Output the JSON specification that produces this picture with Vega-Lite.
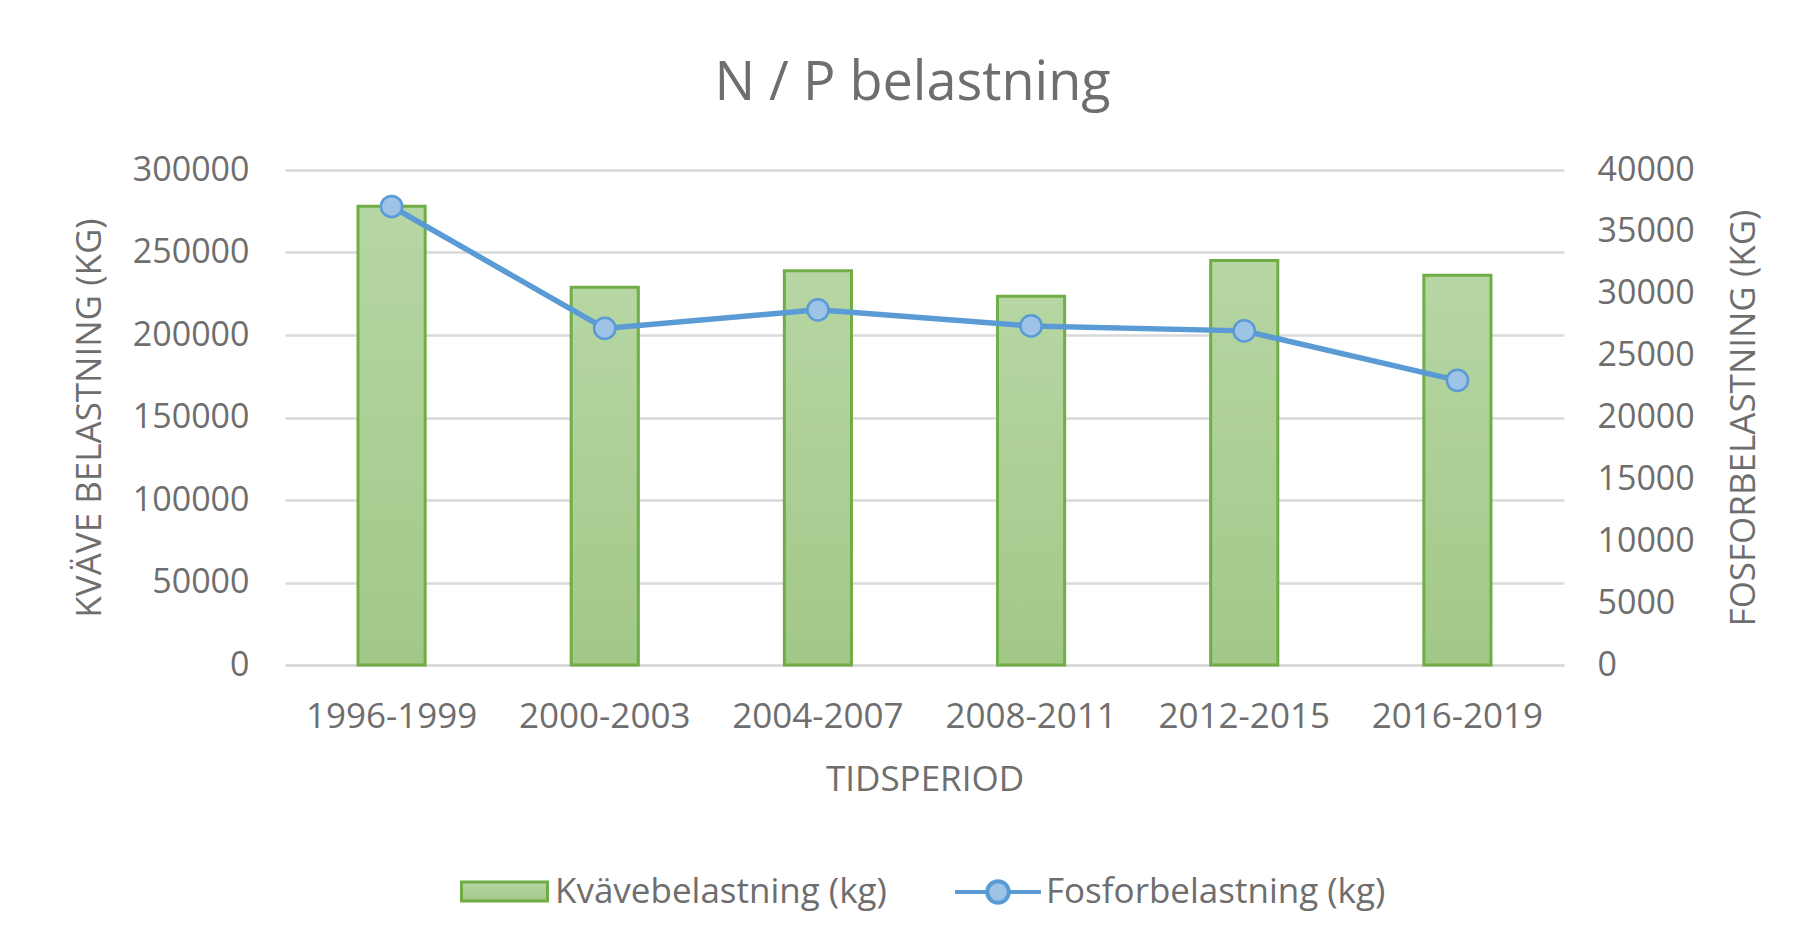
{
  "$schema": "https://vega.github.io/schema/vega-lite/v6.json",
  "width": 1279,
  "height": 495,
  "autosize": {"type": "none"},
  "padding": {"left": 285, "top": 170, "right": 237, "bottom": 287},
  "background": "white",
  "title": {"text": "N / P belastning", "font": "Open Sans", "fontSize": 54, "fontWeight": "normal", "color": "#6e6e6e", "anchor": "middle", "offset": 42, "dx": -12},
  "config": {"view": {"stroke": null}, "font": "Open Sans"},
  "data": {
    "values": [
      {"period": "1996-1999", "N": 278000, "P": 37050},
      {"period": "2000-2003", "N": 229000, "P": 27200},
      {"period": "2004-2007", "N": 239000, "P": 28700},
      {"period": "2008-2011", "N": 223500, "P": 27400},
      {"period": "2012-2015", "N": 245200, "P": 27000},
      {"period": "2016-2019", "N": 236200, "P": 23000}
    ]
  },
  "encoding": {
    "x": {
      "field": "period", "type": "nominal", "sort": null,
      "scale": {"paddingInner": 0.685, "paddingOuter": 0.3425},
      "axis": {
        "title": "TIDSPERIOD", "labelAngle": 0, "labelFontSize": 35, "labelColor": "#6e6e6e",
        "titleFontSize": 35, "titleColor": "#6e6e6e", "titleFontWeight": "normal",
        "ticks": false, "domainColor": "#d9d9d9", "domainWidth": 2.5,
        "labelPadding": 34, "titlePadding": 28
      }
    }
  },
  "layer": [
    {
      "mark": {
        "type": "bar",
        "fill": {"gradient": "linear", "x1": 0, "y1": 0, "x2": 0, "y2": 1,
          "stops": [{"offset": 0, "color": "#b6d6a3"}, {"offset": 1, "color": "#a2c888"}]},
        "strokeWidth": 3
      },
      "encoding": {
        "y": {
          "field": "N", "type": "quantitative",
          "scale": {"domain": [0, 300000]},
          "axis": {
            "title": "KVÄVE BELASTNING (KG)",
            "values": [0, 50000, 100000, 150000, 200000, 250000, 300000],
            "format": "d", "labelFontSize": 34, "labelColor": "#6e6e6e",
            "titleFontSize": 35, "titleColor": "#6e6e6e", "titleFontWeight": "normal",
            "ticks": false, "domain": false, "gridColor": "#d9d9d9", "gridWidth": 2.5,
            "labelPadding": 36, "titlePadding": 25
          }
        },
        "stroke": {
          "datum": "Kvävebelastning (kg)",
          "scale": {"range": ["#70ad47"]},
          "legend": {
            "orient": "none", "legendX": 175, "legendY": 677, "title": null,
            "symbolType": "M-1,-0.22H1V0.22H-1Z", "symbolSize": 7396, "symbolStrokeWidth": 3,
            "labelFontSize": 35, "labelColor": "#6e6e6e", "labelOffset": 6, "labelLimit": 600,
            "encode": {"symbols": {"update": {"fill": {"value": "#afd19a"}, "opacity": {"value": 1}}}}
          }
        }
      }
    },
    {
      "encoding": {
        "y": {
          "field": "P", "type": "quantitative",
          "scale": {"domain": [0, 40000]},
          "axis": {
            "orient": "right", "title": "FOSFORBELASTNING (KG)",
            "values": [0, 5000, 10000, 15000, 20000, 25000, 30000, 35000, 40000],
            "format": "d", "labelFontSize": 34, "labelColor": "#6e6e6e",
            "titleFontSize": 35, "titleColor": "#6e6e6e", "titleFontWeight": "normal",
            "titleAngle": -90, "titleBaseline": "top",
            "ticks": false, "domain": false, "grid": false,
            "labelPadding": 33, "titlePadding": 32
          }
        }
      },
      "layer": [
        {
          "mark": {"type": "line", "strokeWidth": 5.5},
          "encoding": {
            "stroke": {
              "datum": "Fosforbelastning (kg)",
              "scale": {"range": ["#5b9bd5"]},
              "legend": {
                "orient": "none", "legendX": 668, "legendY": 677, "title": null,
                "symbolType": "M-1,0H-0.25M0.25,0H1M-0.25,0A0.25,0.25 0 1,0 0.25,0A0.25,0.25 0 1,0 -0.25,0Z",
                "symbolSize": 7396, "symbolStrokeWidth": 4,
                "labelFontSize": 35, "labelColor": "#6e6e6e", "labelOffset": 3, "labelLimit": 600,
                "encode": {"symbols": {"update": {"fill": {"value": "#9dc3e6"}, "opacity": {"value": 1}}}}
              }
            }
          }
        },
        {
          "mark": {"type": "point", "shape": "circle", "filled": true, "fill": "#9dc3e6", "stroke": "#5b9bd5", "strokeWidth": 2.5, "size": 450, "opacity": 1}
        }
      ]
    }
  ],
  "resolve": {"scale": {"y": "independent", "stroke": "independent"}}
}
